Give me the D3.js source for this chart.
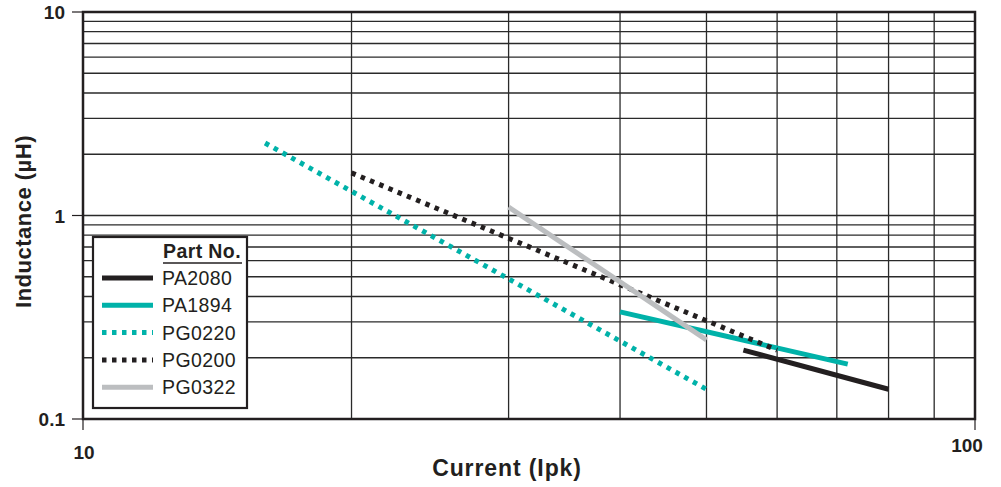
<!DOCTYPE html>
<html lang="en">
<head>
  <meta charset="UTF-8">
  <title>Inductance vs Current</title>
  <script src="https://d3js.org/d3.v7.min.js"></script>
  <style>
    html, body { margin: 0; padding: 0; background: #fff; }
    body { font-family: 'Liberation Sans', Arial, sans-serif; }
    svg text { fill: #231f20; }
  </style>
</head>
<body>
  <div id="chart"></div>
  <script>
    // part numbers and their curves (Ipk, uH)
    var parts = ["PA2080", "PA1894", "PG0220", "PG0200", "PG0322"];
    var pa2080 = [[55, 0.218], [80, 0.14]];
    var pa1894 = [[40, 0.336], [72, 0.186]];
    var pg0220 = [[16, 2.27], [50, 0.14]];
    var pg0200 = [[20, 1.62], [60, 0.218]];
    var pg0322 = [[30, 1.1], [50, 0.245]];
    var xTickLabels = ["10", "100"];
    var yTickLabels = ["0.1", "1", "10"];

    var teal = "#00b2a9", black = "#231f20", grey = "#bcbec0";
    var series = [
      { name: parts[0], data: pa2080, color: black, dotted: false },
      { name: parts[1], data: pa1894, color: teal, dotted: false },
      { name: parts[2], data: pg0220, color: teal, dotted: true },
      { name: parts[3], data: pg0200, color: black, dotted: true },
      { name: parts[4], data: pg0322, color: grey, dotted: false }
    ];

    var width = 1001, height = 487;
    var margin = { top: 12, right: 26, bottom: 68, left: 83 };
    var w = width - margin.left - margin.right,
        h = height - margin.top - margin.bottom;

    var svg = d3.select("#chart").append("svg")
      .attr("width", width)
      .attr("height", height);
    var g = svg.append("g")
      .attr("transform", "translate(" + margin.left + "," + margin.top + ")");

    var x = d3.scaleLog().domain([10, 100]).range([0, w]);
    var y = d3.scaleLog().domain([0.1, 10]).range([h, 0]);

    // grid
    var xGrid = d3.range(20, 100, 10);
    var yGrid = d3.range(2, 10).map(function(d) { return d / 10; })
      .concat([1]).concat(d3.range(2, 10));
    g.selectAll(".vgrid").data(xGrid).enter().append("line")
      .attr("x1", x).attr("x2", x)
      .attr("y1", 0).attr("y2", h)
      .attr("stroke", "#2a2a2a").attr("stroke-width", 1.3);
    g.selectAll(".hgrid").data(yGrid).enter().append("line")
      .attr("y1", y).attr("y2", y)
      .attr("x1", 0).attr("x2", w)
      .attr("stroke", "#2a2a2a").attr("stroke-width", 1.3);

    // frame
    g.append("rect")
      .attr("width", w).attr("height", h)
      .attr("fill", "none").attr("stroke", black).attr("stroke-width", 2.5);

    // outer ticks
    g.selectAll(".ytick").data(yTickLabels).enter().append("line")
      .attr("x1", -11).attr("x2", 0)
      .attr("y1", function(d) { return y(+d); }).attr("y2", function(d) { return y(+d); })
      .attr("stroke", black).attr("stroke-width", 1.2);
    g.selectAll(".xtick").data(xTickLabels).enter().append("line")
      .attr("y1", h).attr("y2", h + 11)
      .attr("x1", function(d) { return x(+d); }).attr("x2", function(d) { return x(+d); })
      .attr("stroke", black).attr("stroke-width", 1.2);

    g.selectAll(".ylab").data(yTickLabels).enter().append("text")
      .attr("x", -18)
      .attr("y", function(d) { return y(+d); })
      .attr("dy", "0.38em")
      .attr("text-anchor", "end")
      .attr("font-size", 19).attr("font-weight", "bold")
      .text(function(d) { return d; });
    g.selectAll(".xlab").data(xTickLabels).enter().append("text")
      .attr("x", function(d, i) { return x(+d) + (i ? -8 : 1); })
      .attr("y", function(d, i) { return h + (i ? 33 : 40); })
      .attr("text-anchor", "middle")
      .attr("font-size", 19).attr("font-weight", "bold")
      .text(function(d) { return d; });

    // axis titles
    svg.append("text")
      .attr("transform", "translate(31," + (margin.top + y(1) + 6) + ") rotate(-90)")
      .attr("text-anchor", "middle")
      .attr("font-size", 22).attr("font-weight", "bold")
      .attr("letter-spacing", 0.5)
      .text("Inductance (\u00b5H)");
    svg.append("text")
      .attr("x", 507).attr("y", 476)
      .attr("text-anchor", "middle")
      .attr("font-size", 23).attr("font-weight", "bold")
      .attr("letter-spacing", 0.9)
      .text("Current (Ipk)");

    // curves
    var line = d3.line()
      .x(function(d) { return x(d[0]); })
      .y(function(d) { return y(d[1]); });
    g.selectAll(".curve").data(series).enter().append("path")
      .attr("d", function(d) { return line(d.data); })
      .attr("fill", "none")
      .attr("stroke", function(d) { return d.color; })
      .attr("stroke-width", 5)
      .attr("stroke-dasharray", function(d) { return d.dotted ? "4.5,5.5" : null; });

    // legend
    var lg = svg.append("g").attr("transform", "translate(93,237)");
    lg.append("rect")
      .attr("width", 154).attr("height", 171)
      .attr("fill", "#fff").attr("stroke", black).attr("stroke-width", 2.2);
    lg.append("text")
      .attr("x", 70).attr("y", 21)
      .attr("font-size", 19.5).attr("font-weight", "bold")
      .attr("letter-spacing", 0.4)
      .text("Part No.");
    lg.append("line")
      .attr("x1", 70).attr("x2", 149).attr("y1", 26).attr("y2", 26)
      .attr("stroke", black).attr("stroke-width", 1.5);
    var item = lg.selectAll(".item").data(series).enter().append("g")
      .attr("transform", function(d, i) { return "translate(0," + (41 + i * 27.3) + ")"; });
    item.append("line")
      .attr("x1", 9).attr("x2", 60)
      .attr("stroke", function(d) { return d.color; })
      .attr("stroke-width", 5)
      .attr("stroke-dasharray", function(d) { return d.dotted ? "4.5,5.5" : null; });
    item.append("text")
      .attr("x", 69).attr("y", 0)
      .attr("dy", "0.36em")
      .attr("font-size", 19.5)
      .attr("letter-spacing", 0.4)
      .text(function(d) { return d.name; });
  </script>
</body>
</html>
